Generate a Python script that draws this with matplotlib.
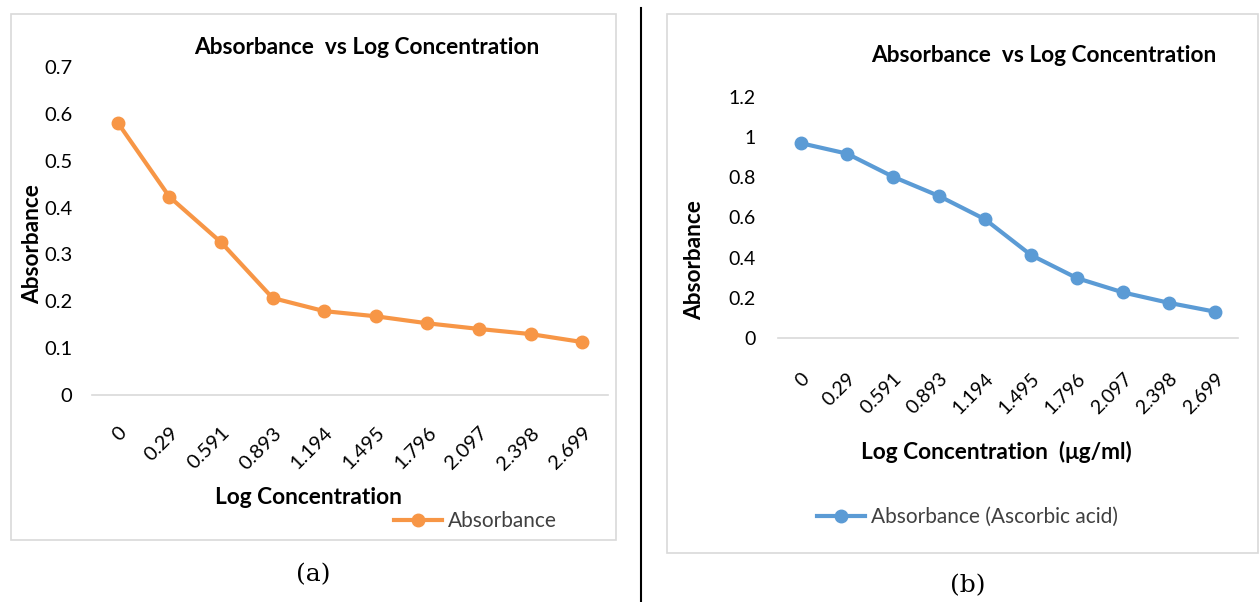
import matplotlib.pyplot as plt
from matplotlib.patches import Rectangle
from matplotlib.lines import Line2D

# data
log_conc = ['0', '0.29', '0.591', '0.893', '1.194', '1.495', '1.796', '2.097', '2.398', '2.699']
abs_a = [0.581, 0.423, 0.326, 0.207, 0.179, 0.168, 0.153, 0.141, 0.130, 0.113]
abs_b = [0.970, 0.918, 0.803, 0.707, 0.591, 0.413, 0.298, 0.227, 0.175, 0.131]
yticks_a = [0, 0.1, 0.2, 0.3, 0.4, 0.5, 0.6, 0.7]
yticks_b = [0, 0.2, 0.4, 0.6, 0.8, 1, 1.2]

ORANGE = '#F79646'
BLUE = '#5B9BD5'
GRID = '#D9D9D9'
TXT = '#404040'
W, H = 1260, 602

plt.rcParams['font.family'] = ['Lato', 'DejaVu Sans']
fig = plt.figure(figsize=(W / 100, H / 100), dpi=100)


def fx(x):
    return x / W


def fy(y):
    return 1 - y / H


def panel(box, rect, vals, yticks, ymax, color, tick_fs, xpad, ypad, label):
    # outer chart frame
    fig.patches.append(Rectangle((fx(box[0]), fy(box[3])), fx(box[2] - box[0]), (box[3] - box[1]) / H,
                                 transform=fig.transFigure, fill=False, edgecolor=GRID, lw=1.2))
    ax = fig.add_axes([fx(rect[0]), fy(rect[3]), fx(rect[2] - rect[0]), (rect[3] - rect[1]) / H])
    x = range(len(vals))
    ax.plot(x, vals, color=color, lw=3, marker='o', ms=9, label=label, clip_on=False)
    ax.set_xlim(-0.5, len(vals) - 0.5)
    ax.set_ylim(0, ymax)
    ax.set_yticks(yticks)
    ax.set_yticklabels([f'{v:g}' for v in yticks])
    ax.set_xticks(list(x))
    ax.set_xticklabels(log_conc, rotation=45, ha='right', va='top', rotation_mode='anchor')
    for s in ['top', 'right', 'left']:
        ax.spines[s].set_visible(False)
    ax.spines['bottom'].set_color(GRID)
    ax.spines['bottom'].set_linewidth(1.2)
    ax.tick_params(axis='y', length=0, pad=ypad, labelsize=tick_fs, labelcolor='black')
    ax.tick_params(axis='x', length=0, pad=xpad, labelsize=tick_fs, labelcolor='black')
    ax.patch.set_alpha(0)
    return ax


ax1 = panel((11, 14, 616, 540), (92, 67, 608, 395), abs_a, yticks_a, 0.7, ORANGE, 14.5, 21, 14, 'Absorbance')
ax2 = panel((667, 14, 1258, 553), (778, 97, 1238, 338), abs_b, yticks_b, 1.2, BLUE, 14, 23, 16,
            'Absorbance (Ascorbic acid)')

# titles and axis labels
fig.text(fx(367), fy(47), 'Absorbance  vs Log Concentration', ha='center', va='center',
         fontsize=16.3, fontweight='bold')
fig.text(fx(1044), fy(56), 'Absorbance  vs Log Concentration', ha='center', va='center',
         fontsize=16.3, fontweight='bold')
fig.text(fx(33), fy(244), 'Absorbance', rotation=90, ha='center', va='center', fontsize=16.3, fontweight='bold')
fig.text(fx(695), fy(260), 'Absorbance', rotation=90, ha='center', va='center', fontsize=16.3, fontweight='bold')
fig.text(fx(308), fy(497), 'Log Concentration', ha='center', va='center', fontsize=16.3, fontweight='bold')
fig.text(fx(996), fy(452), 'Log Concentration  (μg/ml)', ha='center', va='center', fontsize=16.3,
         fontweight='bold')

# legends
for ax, x0, y0 in [(ax1, 394, 521), (ax2, 817, 517)]:
    ax.legend(loc='center left', bbox_to_anchor=(fx(x0), fy(y0)), bbox_transform=fig.transFigure,
              frameon=False, borderpad=0, borderaxespad=0, fontsize=15, handlelength=2.3,
              handletextpad=0.3, labelcolor=TXT)

# panel captions
fig.text(fx(313), fy(575), '(a)', ha='center', va='center', fontsize=18, family=['DejaVu Serif'])
fig.text(fx(968), fy(586), '(b)', ha='center', va='center', fontsize=18, family=['DejaVu Serif'])

# divider between the two panels
fig.add_artist(Line2D([fx(641), fx(641)], [fy(8), fy(602)], transform=fig.transFigure, color='black', lw=1.5))

fig.savefig('out.png', dpi=100, facecolor='white')
